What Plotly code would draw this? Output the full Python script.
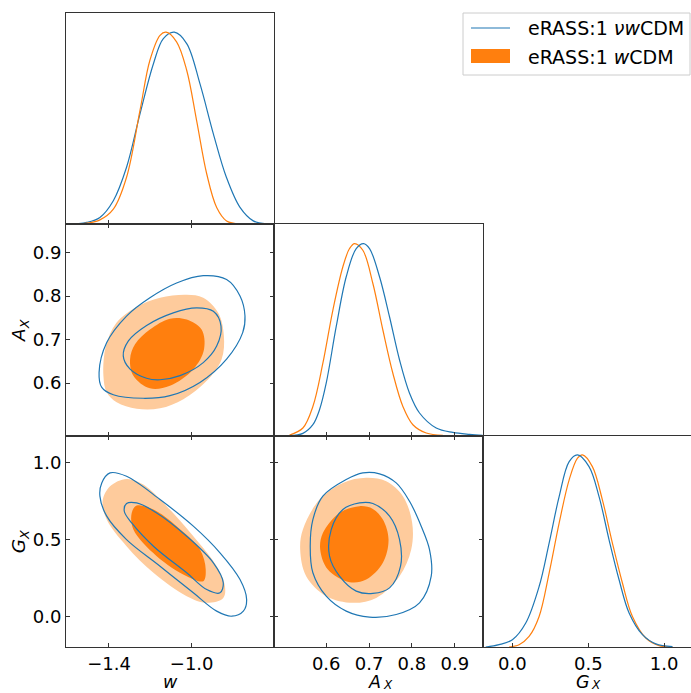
import plotly.graph_objects as go

# ---------------- data ----------------
# 1D marginal of w
w1d_blue_x = [-1.605, -1.508, -1.444, -1.379, -1.315, -1.250, -1.185, -1.137, -1.084, -1.024, -0.960, -0.895, -0.832, -0.766, -0.702, -0.637]
w1d_blue_y = [0.0, 0.010, 0.036, 0.123, 0.297, 0.575, 0.836, 0.967, 1.0, 0.941, 0.732, 0.471, 0.245, 0.088, 0.018, 0.003]
w1d_orng_x = [-1.605, -1.508, -1.444, -1.379, -1.315, -1.250, -1.202, -1.153, -1.124, -1.073, -1.024, -0.976, -0.927, -0.879, -0.831, -0.766]
w1d_orng_y = [0.0, 0.006, 0.023, 0.079, 0.245, 0.593, 0.854, 0.984, 1.0, 0.950, 0.802, 0.540, 0.262, 0.088, 0.018, 0.003]

# 1D marginal of A_X
a1d_blue_x = [0.5145, 0.5456, 0.5689, 0.5844, 0.600, 0.6233, 0.6467, 0.670, 0.6871, 0.7011, 0.7244, 0.7477, 0.7711, 0.7944, 0.8177, 0.8566, 0.8955, 0.9344, 0.9655]
a1d_blue_y = [0.0, 0.012, 0.057, 0.135, 0.273, 0.567, 0.827, 0.974, 1.0, 0.974, 0.827, 0.619, 0.394, 0.221, 0.118, 0.040, 0.017, 0.007, 0.002]
a1d_orng_x = [0.5145, 0.5456, 0.5689, 0.5922, 0.6156, 0.6389, 0.6544, 0.6661, 0.6855, 0.7089, 0.7322, 0.7555, 0.7789, 0.8022, 0.8333, 0.8722]
a1d_orng_y = [0.003, 0.040, 0.152, 0.377, 0.654, 0.879, 0.974, 1.0, 0.965, 0.792, 0.550, 0.325, 0.152, 0.057, 0.014, 0.002]

# 1D marginal of G_X
g1d_blue_x = [-0.176, -0.088, 0.0, 0.088, 0.176, 0.242, 0.308, 0.374, 0.429, 0.505, 0.571, 0.637, 0.703, 0.769, 0.857, 0.945, 1.055]
g1d_blue_y = [0.0, 0.012, 0.038, 0.125, 0.315, 0.541, 0.783, 0.965, 1.0, 0.939, 0.783, 0.558, 0.350, 0.177, 0.064, 0.016, 0.002]
g1d_orng_x = [-0.022, 0.044, 0.110, 0.176, 0.242, 0.308, 0.374, 0.429, 0.462, 0.527, 0.593, 0.659, 0.725, 0.791, 0.879, 0.967, 1.055]
g1d_orng_y = [0.0, 0.012, 0.055, 0.159, 0.385, 0.645, 0.870, 0.983, 1.0, 0.939, 0.766, 0.541, 0.333, 0.159, 0.047, 0.007, 0.0]

# 2D contours, w vs A_X
wa_blue_outer_w = [-1.448, -1.435, -1.379, -1.234, -1.105, -0.960, -0.831, -0.753, -0.742, -0.766, -0.831, -0.944, -1.073, -1.202, -1.315, -1.411]
wa_blue_outer_a = [0.624, 0.590, 0.573, 0.565, 0.571, 0.6015, 0.655, 0.716, 0.754, 0.800, 0.838, 0.847, 0.830, 0.796, 0.754, 0.693]
wa_blue_inner_w = [-1.331, -1.298, -1.218, -1.153, -1.056, -0.944, -0.879, -0.858, -0.895, -0.976, -1.089, -1.218, -1.306]
wa_blue_inner_a = [0.6625, 0.632, 0.611, 0.6076, 0.617, 0.647, 0.685, 0.731, 0.765, 0.773, 0.7615, 0.7325, 0.697]
wa_orng_outer_w = [-1.427, -1.411, -1.363, -1.266, -1.153, -1.040, -0.927, -0.855, -0.844, -0.871, -0.944, -1.024, -1.153, -1.266, -1.363, -1.415]
wa_orng_outer_a = [0.617, 0.579, 0.556, 0.541, 0.542, 0.563, 0.605, 0.655, 0.708, 0.761, 0.796, 0.803, 0.796, 0.775, 0.739, 0.685]
wa_orng_inner_w = [-1.298, -1.282, -1.202, -1.105, -0.992, -0.940, -0.952, -1.024, -1.105, -1.202, -1.274]
wa_orng_inner_a = [0.655, 0.617, 0.588, 0.594, 0.632, 0.678, 0.723, 0.746, 0.748, 0.723, 0.689]

# 2D contours, w vs G_X
wg_blue_outer_w = [-1.395, -1.435, -1.444, -1.411, -1.315, -1.153, -0.992, -0.879, -0.806, -0.750, -0.734, -0.766, -0.863, -0.992, -1.153, -1.315]
wg_blue_outer_g = [0.935, 0.870, 0.784, 0.654, 0.502, 0.329, 0.156, 0.037, 0.004, 0.037, 0.113, 0.242, 0.416, 0.589, 0.762, 0.913]
wg_blue_inner_w = [-1.315, -1.326, -1.290, -1.185, -1.024, -0.927, -0.863, -0.847, -0.895, -1.024, -1.169, -1.266]
wg_blue_inner_g = [0.736, 0.686, 0.610, 0.459, 0.286, 0.177, 0.156, 0.221, 0.351, 0.524, 0.675, 0.740]
wg_orng_outer_w = [-1.315, -1.395, -1.431, -1.411, -1.315, -1.185, -1.024, -0.927, -0.847, -0.839, -0.879, -0.992, -1.121, -1.234]
wg_orng_outer_g = [0.896, 0.848, 0.751, 0.632, 0.459, 0.286, 0.134, 0.091, 0.123, 0.199, 0.329, 0.524, 0.719, 0.859]
wg_orng_inner_w = [-1.266, -1.290, -1.282, -1.169, -1.024, -0.944, -0.932, -0.960, -1.073, -1.185]
wg_orng_inner_g = [0.723, 0.675, 0.567, 0.394, 0.264, 0.232, 0.307, 0.437, 0.589, 0.697]

# 2D contours, A_X vs G_X
ag_blue_outer_a = [0.6855, 0.6467, 0.5922, 0.5689, 0.5627, 0.5689, 0.600, 0.6467, 0.701, 0.7633, 0.8177, 0.845, 0.841, 0.8216, 0.7944, 0.7633, 0.7244]
ag_blue_outer_g = [0.935, 0.892, 0.784, 0.632, 0.459, 0.286, 0.134, 0.037, -0.002, 0.015, 0.091, 0.264, 0.437, 0.589, 0.751, 0.870, 0.929]
ag_blue_inner_a = [0.6778, 0.6389, 0.6117, 0.6078, 0.6311, 0.670, 0.7089, 0.7478, 0.7734, 0.7711, 0.7478, 0.7089]
ag_blue_inner_g = [0.740, 0.697, 0.567, 0.394, 0.264, 0.167, 0.152, 0.188, 0.329, 0.502, 0.654, 0.736]
ag_orng_outer_a = [0.6933, 0.6389, 0.5844, 0.5456, 0.5393, 0.5533, 0.600, 0.6622, 0.7167, 0.7711, 0.7983, 0.8006, 0.7789, 0.740]
ag_orng_outer_g = [0.903, 0.870, 0.762, 0.567, 0.437, 0.264, 0.134, 0.091, 0.123, 0.264, 0.437, 0.610, 0.784, 0.881]
ag_orng_inner_a = [0.6778, 0.6311, 0.5922, 0.5860, 0.6039, 0.6544, 0.6933, 0.7322, 0.7454, 0.7322, 0.7089]
ag_orng_inner_g = [0.719, 0.675, 0.545, 0.437, 0.307, 0.225, 0.242, 0.351, 0.502, 0.632, 0.701]

# axis ranges / ticks / labels
w_range = [-1.608, -0.600]
a_range = [0.479, 0.965]
g_range = [-0.196, 1.177]
dens_range = [0, 1.1]
w_ticks = [-1.4, -1.0]
w_ticktext = ["\u22121.4", "\u22121.0"]
a_ticks = [0.6, 0.7, 0.8, 0.9]
a_ticktext = ["0.6", "0.7", "0.8", "0.9"]
g_ticks = [0.0, 0.5, 1.0]
g_ticktext = ["0.0", "0.5", "1.0"]
# parameter symbols: (main letter, subscript)
param_symbols = [("w", ""), ("A", "X"), ("G", "X")]

label_blue = "eRASS:1 <i>\u03bdw</i>CDM"
label_orng = "eRASS:1 <i>w</i>CDM"

# ---------------- styles ----------------
BLUE = "#1f77b4"
ORANGE = "#ff7f0e"
LIGHT_ORANGE = "#fecb9c"
SPINE = "#333333"
FONT = "DejaVu Sans"
W, H = 691, 693
ML, MR, MT, MB = 66, 0, 13, 46
PW, PH = W - ML - MR, H - MT - MB


def px2paper(px, py):
    return (px - ML) / PW, (H - MB - py) / PH


def closed(xs, ys):
    return list(xs) + [xs[0]], list(ys) + [ys[0]]


fig = go.Figure()


def ax_names(k):
    return ("x", "y") if k == 1 else (f"x{k}", f"y{k}")


def add_fill(k, xs, ys, color):
    x, y = closed(xs, ys)
    xa, ya = ax_names(k)
    fig.add_trace(go.Scatter(x=x, y=y, mode="lines", fill="toself", fillcolor=color,
                             line=dict(width=0, color=color, shape="spline", smoothing=1.0),
                             xaxis=xa, yaxis=ya, hoverinfo="skip", showlegend=False))


def add_line(k, xs, ys, color, close=True):
    if close:
        x, y = closed(xs, ys)
    else:
        x, y = xs, ys
    xa, ya = ax_names(k)
    fig.add_trace(go.Scatter(x=x, y=y, mode="lines",
                             line=dict(width=1.2, color=color, shape="spline", smoothing=1.0),
                             xaxis=xa, yaxis=ya, hoverinfo="skip", showlegend=False))


# 1D marginals
add_line(1, w1d_blue_x, w1d_blue_y, BLUE, close=False)
add_line(1, w1d_orng_x, w1d_orng_y, ORANGE, close=False)
add_line(4, a1d_orng_x, a1d_orng_y, ORANGE, close=False)
add_line(4, a1d_blue_x, a1d_blue_y, BLUE, close=False)
add_line(6, g1d_orng_x, g1d_orng_y, ORANGE, close=False)
add_line(6, g1d_blue_x, g1d_blue_y, BLUE, close=False)

# 2D contours
add_fill(2, wa_orng_outer_w, wa_orng_outer_a, LIGHT_ORANGE)
add_fill(2, wa_orng_inner_w, wa_orng_inner_a, ORANGE)
add_line(2, wa_blue_outer_w, wa_blue_outer_a, BLUE)
add_line(2, wa_blue_inner_w, wa_blue_inner_a, BLUE)

add_fill(3, wg_orng_outer_w, wg_orng_outer_g, LIGHT_ORANGE)
add_fill(3, wg_orng_inner_w, wg_orng_inner_g, ORANGE)
add_line(3, wg_blue_outer_w, wg_blue_outer_g, BLUE)
add_line(3, wg_blue_inner_w, wg_blue_inner_g, BLUE)

add_fill(5, ag_orng_outer_a, ag_orng_outer_g, LIGHT_ORANGE)
add_fill(5, ag_orng_inner_a, ag_orng_inner_g, ORANGE)
add_line(5, ag_blue_outer_a, ag_blue_outer_g, BLUE)
add_line(5, ag_blue_inner_a, ag_blue_inner_g, BLUE)

cols = [[0.0, 1 / 3], [1 / 3, 2 / 3], [2 / 3, 1.0]]
rows = [[2 / 3, 1.0], [1 / 3, 2 / 3], [0.0, 1 / 3]]  # row1 top

TICKFONT = dict(family=FONT, size=18, color="black")
XTITLEFONT = dict(family=FONT, size=17.5, color="black")
YTITLEFONT = dict(family=FONT, size=18.5, color="black")
SUBFONT = dict(family=FONT, size=12, color="black")


def xaxis(k, col, rng, tv, tt, labels, mirror="ticks"):
    return dict(domain=cols[col], range=rng, anchor=ax_names(k)[1], showline=True, linecolor=SPINE,
                linewidth=1, mirror=mirror, ticks="inside", ticklen=4, tickcolor=SPINE,
                tickvals=tv, ticktext=tt, showticklabels=labels, tickfont=TICKFONT,
                showgrid=False, zeroline=False, fixedrange=True)


def yaxis(k, row, rng, tv=None, tt=None, labels=False, diag=False, mirror="ticks"):
    d = dict(domain=rows[row], range=rng, anchor=ax_names(k)[0], showline=True, linecolor=SPINE,
             linewidth=1, mirror=mirror, showgrid=False, zeroline=False, fixedrange=True,
             tickfont=TICKFONT)
    if diag:
        d.update(ticks="", showticklabels=False)
    else:
        d.update(ticks="inside", ticklen=4, tickcolor=SPINE, tickvals=tv, ticktext=tt,
                 showticklabels=labels)
    return d


fig.update_layout(
    xaxis=xaxis(1, 0, w_range, w_ticks, w_ticktext, False, mirror=True),
    yaxis=yaxis(1, 0, dens_range, diag=True, mirror=True),
    xaxis2=xaxis(2, 0, w_range, w_ticks, w_ticktext, False),
    yaxis2=yaxis(2, 1, a_range, a_ticks, a_ticktext, True),
    xaxis3=xaxis(3, 0, w_range, w_ticks, w_ticktext, True),
    yaxis3=yaxis(3, 2, g_range, g_ticks, g_ticktext, True),
    xaxis4=xaxis(4, 1, a_range, a_ticks, a_ticktext, False, mirror=True),
    yaxis4=yaxis(4, 1, dens_range, diag=True, mirror=True),
    xaxis5=xaxis(5, 1, a_range, a_ticks, a_ticktext, True),
    yaxis5=yaxis(5, 2, g_range, g_ticks, g_ticktext, False),
    xaxis6=xaxis(6, 2, g_range, g_ticks, g_ticktext, True, mirror=True),
    yaxis6=yaxis(6, 2, dens_range, diag=True, mirror=False),
)

annotations = []
shapes = []

# x-axis titles under the bottom row (letter + small subscript placed beside it)
ybot = px2paper(0, 693)[1]
for i, (main, sub) in enumerate(param_symbols):
    cc_px = ML + PW * (cols[i][0] + cols[i][1]) / 2
    main_px = cc_px - 4 if sub else cc_px
    annotations.append(dict(text=f"<i>{main}</i>", xref="paper", yref="paper",
                            x=px2paper(main_px, 0)[0], y=ybot, xanchor="center", yanchor="bottom",
                            showarrow=False, font=XTITLEFONT, borderpad=0))
    if sub:
        annotations.append(dict(text=f"<i>{sub}</i>", xref="paper", yref="paper",
                                x=px2paper(main_px + 7, 0)[0], y=ybot, xanchor="left", yanchor="bottom",
                                showarrow=False, font=SUBFONT, borderpad=0))

# y-axis titles on the left column
for i in (1, 2):
    main, sub = param_symbols[i]
    yc = (rows[i][0] + rows[i][1]) / 2
    annotations.append(dict(text=f"<i>{main}</i><sub><i>{sub}</i></sub>", xref="paper", yref="paper",
                            x=px2paper(20, 0)[0], y=yc, xanchor="center", yanchor="middle",
                            textangle=-90, showarrow=False, font=YTITLEFONT))

# legend box (drawn as shapes + text)
bx0, by0 = px2paper(463, 75)
bx1, by1 = px2paper(690, 13)
shapes.append(dict(type="rect", xref="paper", yref="paper", x0=bx0, y0=by0, x1=bx1, y1=by1,
                   line=dict(color="#cccccc", width=1), fillcolor="rgba(255,255,255,0.8)", layer="above"))
lx0, ly = px2paper(471, 28)
lx1, _ = px2paper(510, 28)
shapes.append(dict(type="line", xref="paper", yref="paper", x0=lx0, x1=lx1, y0=ly, y1=ly,
                   line=dict(color=BLUE, width=1.2), layer="above"))
rx0, ry0 = px2paper(471, 63)
rx1, ry1 = px2paper(510, 49)
shapes.append(dict(type="rect", xref="paper", yref="paper", x0=rx0, x1=rx1, y0=ry0, y1=ry1,
                   line=dict(width=0), fillcolor=ORANGE, layer="above"))
tx, ty1 = px2paper(526, 28)
_, ty2 = px2paper(526, 57)
LEGFONT = dict(family=FONT, size=19, color="black")
annotations.append(dict(text=label_blue, xref="paper", yref="paper", x=tx, y=ty1, xanchor="left",
                        yanchor="middle", showarrow=False, font=LEGFONT))
annotations.append(dict(text=label_orng, xref="paper", yref="paper", x=tx, y=ty2, xanchor="left",
                        yanchor="middle", showarrow=False, font=LEGFONT))

fig.update_layout(
    width=W, height=H,
    margin=dict(l=ML, r=MR, t=MT, b=MB, pad=0),
    paper_bgcolor="white", plot_bgcolor="white",
    font=dict(family=FONT, size=19, color="black"),
    showlegend=False,
    annotations=annotations,
    shapes=shapes,
)

fig.write_html("out.html")
